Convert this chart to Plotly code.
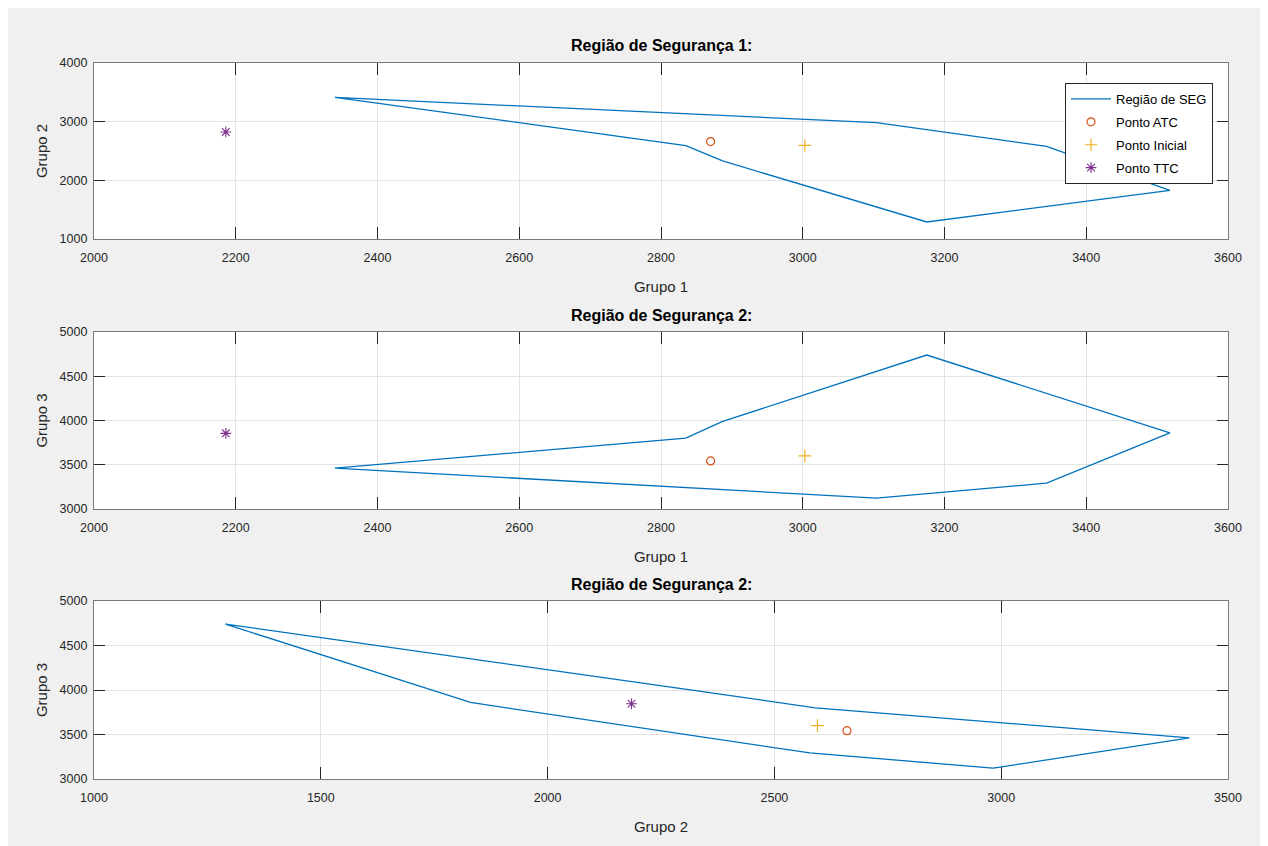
import plotly.graph_objects as go

# Safety region vertices (closed polygon): Grupo 1, Grupo 2, Grupo 3
grupo1 = [2340, 2835, 2887, 3175, 3518, 3344, 3104, 2340]
grupo2 = [3415, 2590, 2330, 1290, 1830, 2578, 2982, 3415]
grupo3 = [3462, 3800, 3990, 4740, 3860, 3293, 3122, 3462]

# Points (Grupo 1, Grupo 2, Grupo 3)
atc = [2870, 2660, 3543]
inicial = [3003, 2595, 3600]
ttc = [2186, 2825, 3855]
ttc_plot3 = [2185, 3845]   # as drawn in the third panel

titles = ["Região de Segurança 1:", "Região de Segurança 2:", "Região de Segurança 2:"]
xlabels = ["Grupo 1", "Grupo 1", "Grupo 2"]
ylabels = ["Grupo 2", "Grupo 3", "Grupo 3"]

OFF = 8                     # browser body margin
W, H = 1260, 838
L, R = 94 - OFF, 40
PW = W - L - R

BLUE = "#0072BD"
ORANGE = "#D95319"
YELLOW = "#EDB120"
PURPLE = "#7E2F8E"
FONT = "Liberation Sans"

fig = go.Figure()

panels = [
    (grupo1, grupo2, [atc[0], atc[1]], [inicial[0], inicial[1]], [ttc[0], ttc[1]]),
    (grupo1, grupo3, [atc[0], atc[2]], [inicial[0], inicial[2]], [ttc[0], ttc[2]]),
    (grupo2, grupo3, [atc[1], atc[2]], [inicial[1], inicial[2]], ttc_plot3),
]

for i, (px, py, a, ini, t) in enumerate(panels):
    xa = "x" if i == 0 else f"x{i+1}"
    ya = "y" if i == 0 else f"y{i+1}"
    show = i == 0
    fig.add_trace(go.Scatter(x=px, y=py, mode="lines", name="Região de SEG",
                             legendgroup="seg",
                             line=dict(color=BLUE, width=1.3), xaxis=xa, yaxis=ya,
                             showlegend=show))
    fig.add_trace(go.Scatter(x=[a[0]], y=[a[1]], mode="markers", name="Ponto ATC",
                             legendgroup="atc",
                             marker=dict(symbol="circle-open", color=ORANGE, size=8,
                                         line=dict(width=1.2)),
                             xaxis=xa, yaxis=ya, showlegend=show))
    fig.add_trace(go.Scatter(x=[ini[0]], y=[ini[1]], mode="markers", name="Ponto Inicial",
                             legendgroup="ini",
                             marker=dict(symbol="cross-thin-open", color=YELLOW, size=9,
                                         line=dict(width=1.2, color=YELLOW)),
                             xaxis=xa, yaxis=ya, showlegend=show))
    fig.add_trace(go.Scatter(x=[t[0]], y=[t[1]], mode="markers", name="Ponto TTC",
                             legendgroup="ttc",
                             marker=dict(symbol="asterisk-open", color=PURPLE, size=9,
                                         line=dict(width=1.1, color=PURPLE)),
                             xaxis=xa, yaxis=ya, showlegend=show))

# pixel geometry of panels in the page (top, bottom)
rows = [(63, 239), (332, 509), (601, 779)]
xranges = [[2000, 3600], [2000, 3600], [1000, 3500]]
xdt = [200, 200, 500]
yranges = [[1000, 4000], [3000, 5000], [3000, 5000]]
ydt = [1000, 500, 500]

common = dict(showline=True, linecolor="#7a7a7a", linewidth=1.2, mirror="ticks",
              ticks="inside", tickcolor="#262626", tickwidth=1,
              showgrid=True, gridcolor="#e3e3e3", gridwidth=1, zeroline=False,
              tickfont=dict(family=FONT, size=12.5, color="#262626"),
              title_font=dict(family=FONT, size=15, color="#262626"))

annotations = []
for i, (top, bot) in enumerate(rows):
    sfx = "" if i == 0 else str(i + 1)
    t, b = top - OFF, bot - OFF
    fig.layout["xaxis" + sfx] = dict(common, domain=[0, 1], anchor="y" + sfx,
                                     range=xranges[i], dtick=xdt[i], tick0=0, ticklen=12,
                                     ticklabelstandoff=7,
                                     title=dict(text=xlabels[i], standoff=17))
    fig.layout["yaxis" + sfx] = dict(common, domain=[1 - b / H, 1 - t / H],
                                     anchor="x" + sfx, range=yranges[i], dtick=ydt[i],
                                     tick0=0, ticklen=11, ticklabelstandoff=3,
                                     title=dict(text=ylabels[i], standoff=8))
    annotations.append(dict(text=f"<b>{titles[i]}</b>", xref="paper", yref="paper",
                            x=(661 - OFF - L) / PW, y=1 - (t - 17) / H, xanchor="center",
                            yanchor="middle", showarrow=False,
                            font=dict(family=FONT, size=16, color="#000000")))

fig.update_layout(
    width=W, height=H,
    margin=dict(l=L, r=R, t=0, b=0, autoexpand=False),
    paper_bgcolor="#f0f0f0", plot_bgcolor="white",
    font=dict(family=FONT, size=12, color="#262626"),
    annotations=annotations,
    legend=dict(x=(1213 - OFF - L) / PW, y=1 - (83 - OFF) / H, xanchor="right", yanchor="top",
                bgcolor="white", bordercolor="#262626", borderwidth=1,
                font=dict(family=FONT, size=13, color="#000000"),
                tracegroupgap=3, itemwidth=40),
)

fig.write_html("out.html")
